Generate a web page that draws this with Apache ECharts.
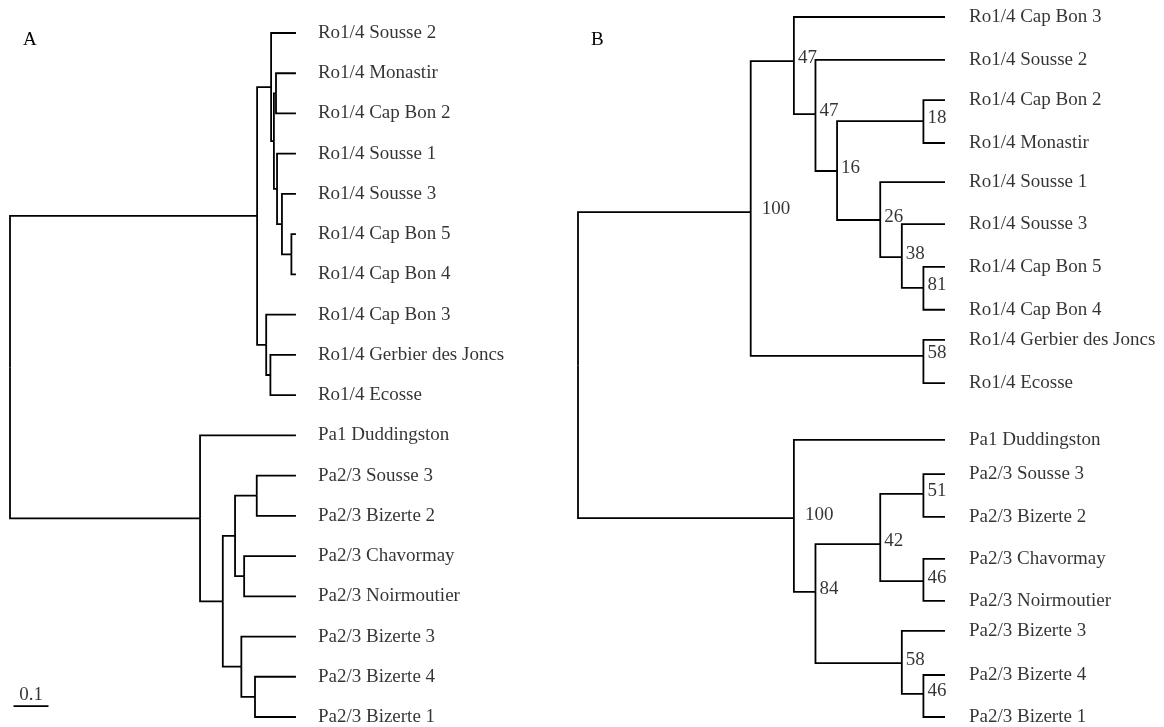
<!DOCTYPE html>
<html>
<head>
<meta charset="utf-8">
<title>Ro1/4 - Pa trees</title>
<script src="https://cdn.jsdelivr.net/npm/echarts@6/dist/echarts.min.js"></script>
<style>
    html, body { margin: 0; padding: 0; background: #fff; }
    #chart { width: 1164px; height: 727px; }
</style>
</head>
<body>
<div id="chart"></div>
<script>
    // ---------- A : distance tree ----------
    const leavesA = [
        'Ro1/4 Sousse 2', 'Ro1/4 Monastir', 'Ro1/4 Cap Bon 2', 'Ro1/4 Sousse 1',
        'Ro1/4 Sousse 3', 'Ro1/4 Cap Bon 5', 'Ro1/4 Cap Bon 4', 'Ro1/4 Cap Bon 3',
        'Ro1/4 Gerbier des Joncs', 'Ro1/4 Ecosse', 'Pa1 Duddingston', 'Pa2/3 Sousse 3',
        'Pa2/3 Bizerte 2', 'Pa2/3 Chavormay', 'Pa2/3 Noirmoutier', 'Pa2/3 Bizerte 3',
        'Pa2/3 Bizerte 4', 'Pa2/3 Bizerte 1'
    ]
    const nodeIdsA = ['root', 'Ro', 'P1', 'X', 'Y', 'P3', 'P4', 'P5', 'Q1', 'Q2', 'Pa', 'R1', 'R2', 'R3', 'R4', 'R5', 'R6']
    // distance from root
    const nodeDepthA = [0, 0.706, 0.746, 0.754, 0.760, 0.763, 0.777, 0.804, 0.732, 0.744, 0.543, 0.608, 0.643, 0.705, 0.669, 0.661, 0.700]
    // numbers = leaf index
    const nodeChildrenA = [
        ['Ro', 'Pa'], ['P1', 'Q1'], [0, 'X'], ['Y', 'P3'], [1, 2], [3, 'P4'], [4, 'P5'], [5, 6],
        [7, 'Q2'], [8, 9], [10, 'R1'], ['R2', 'R5'], ['R3', 'R4'], [11, 12], [13, 14], [15, 'R6'], [16, 17]
    ]
    const leafDepthA = 0.817
    const scaleBarLen = 0.1

    // ---------- B : bootstrap cladogram ----------
    const leavesB = [
        'Ro1/4 Cap Bon 3', 'Ro1/4 Sousse 2', 'Ro1/4 Cap Bon 2', 'Ro1/4 Monastir',
        'Ro1/4 Sousse 1', 'Ro1/4 Sousse 3', 'Ro1/4 Cap Bon 5', 'Ro1/4 Cap Bon 4',
        'Ro1/4 Gerbier des Joncs', 'Ro1/4 Ecosse', 'Pa1 Duddingston', 'Pa2/3 Sousse 3',
        'Pa2/3 Bizerte 2', 'Pa2/3 Chavormay', 'Pa2/3 Noirmoutier', 'Pa2/3 Bizerte 3',
        'Pa2/3 Bizerte 4', 'Pa2/3 Bizerte 1'
    ]
    const leafRowB = [0, 1.04, 2.02, 3.06, 4.01, 5.03, 6.07, 7.11, 7.84, 8.89, 10.27, 11.10, 12.14, 13.16, 14.18, 14.91, 15.98, 17]
    const nodeIdsB = ['root', 'Ro', 'N47a', 'N47b', 'N16', 'N18', 'N26', 'N38', 'N81', 'N58', 'Pa', 'N84', 'N42', 'N51', 'N46a', 'N58b', 'N46b']
    const nodeRankB = [0, 8, 10, 11, 12, 16, 14, 15, 16, 16, 10, 11, 14, 16, 16, 15, 16]
    const nodeRowB = [null, 4.74, 1.07, 2.36, 3.74, 2.53, 4.93, 5.83, 6.58, 8.23, 12.17, 13.96, 12.80, 11.58, 13.70, 15.69, 16.44]
    const nodeChildrenB = [
        ['Ro', 'Pa'], ['N47a', 'N58'], [0, 'N47b'], [1, 'N16'], ['N18', 'N26'], [2, 3], [4, 'N38'], [5, 'N81'],
        [6, 7], [8, 9], [10, 'N84'], ['N42', 'N58b'], ['N51', 'N46a'], [11, 12], [13, 14], [15, 'N46b'], [16, 17]
    ]
    const bootstrapB = [null, 100, 47, 47, 16, 18, 26, 38, 81, 58, 100, 84, 42, 51, 46, 58, 46]
    const leafRankB = 17

    const font = 'Liberation Serif, Times New Roman, serif'
    const ink = '#000'

    function buildTree(ids, depths, childrenList, leafDepth, leafRows, nodeRows) {
        function rowOf(id) {
            if (typeof id === 'number') return leafRows[id]
            const k = ids.indexOf(id)
            if (nodeRows && nodeRows[k] != null) return nodeRows[k]
            const rows = childrenList[k].map(rowOf)
            return (Math.min(...rows) + Math.max(...rows)) / 2
        }
        function xyOf(id) {
            if (typeof id === 'number') return [leafDepth, leafRows[id]]
            return [depths[ids.indexOf(id)], rowOf(id)]
        }
        const links = []
        ids.forEach((id, k) => {
            const p = xyOf(id)
            childrenList[k].forEach(c => {
                const q = xyOf(c)
                links.push({ coords: [[p[0], p[1]], [p[0], q[1]], [q[0], q[1]]] })
            })
        })
        return { xyOf, links }
    }

    const treeA = buildTree(nodeIdsA, nodeDepthA, nodeChildrenA, leafDepthA, leavesA.map((_, i) => i), null)
    const treeB = buildTree(nodeIdsB, nodeRankB, nodeChildrenB, leafRankB, leafRowB, nodeRowB)

    const scaleRow = 16.73
    const scaleStart = 0.01

    const lineStyle = { color: ink, width: 1.8, opacity: 1, curveness: 0, join: 'miter', cap: 'butt' }
    const textStyle = { fontFamily: font, fontSize: 19, color: ink }

    function treeSeries(tree, idx, leaves, gap) {
        return [
            {
                type: 'lines', coordinateSystem: 'cartesian2d', xAxisIndex: idx, yAxisIndex: idx,
                polyline: true, silent: true, clip: false,
                lineStyle: lineStyle,
                data: tree.links
            },
            {
                type: 'scatter', xAxisIndex: idx, yAxisIndex: idx, symbolSize: 0, clip: false, silent: true,
                label: Object.assign({ show: true, position: 'right', distance: gap, formatter: '{b}' }, textStyle),
                data: leaves.map((name, i) => ({ name: name, value: tree.xyOf(i) }))
            }
        ]
    }

    const chartInstance = echarts.init(document.getElementById('chart'), null, { renderer: 'canvas' })

    const option = {
        animation: false,
        backgroundColor: '#fff',
        title: [
            { text: 'A', left: 23, top: 31, padding: 0, textStyle: Object.assign({ fontWeight: 'normal' }, textStyle) },
            { text: 'B', left: 591, top: 31, padding: 0, textStyle: Object.assign({ fontWeight: 'normal' }, textStyle) }
        ],
        grid: [
            { left: 10, top: 33, width: 350, height: 684 },
            { left: 578, top: 17, width: 367, height: 700 }
        ],
        xAxis: [
            { type: 'value', gridIndex: 0, min: 0, max: 1, show: false },
            { type: 'value', gridIndex: 1, min: 0, max: 17, show: false }
        ],
        yAxis: [
            { type: 'value', gridIndex: 0, min: 0, max: 17, inverse: true, show: false },
            { type: 'value', gridIndex: 1, min: 0, max: 17, inverse: true, show: false }
        ],
        series: [
            ...treeSeries(treeA, 0, leavesA, 22),
            ...treeSeries(treeB, 1, leavesB, 24),
            {
                // bootstrap values (the 100s sit a bit further out)
                type: 'scatter', xAxisIndex: 1, yAxisIndex: 1, symbolSize: 0, clip: false, silent: true,
                label: Object.assign({ show: true, position: 'right', distance: 4, offset: [0, -3], formatter: '{b}' }, textStyle),
                data: nodeIdsB.map((id, k) => {
                    if (bootstrapB[k] == null) return null
                    const item = { name: String(bootstrapB[k]), value: treeB.xyOf(id) }
                    if (bootstrapB[k] === 100) item.label = { distance: 11 }
                    return item
                }).filter(d => d)
            },
            {
                // scale bar
                type: 'lines', coordinateSystem: 'cartesian2d', xAxisIndex: 0, yAxisIndex: 0,
                polyline: true, silent: true, clip: false,
                lineStyle: lineStyle,
                data: [{ coords: [[scaleStart, scaleRow], [scaleStart + scaleBarLen, scaleRow]] }]
            },
            {
                type: 'scatter', xAxisIndex: 0, yAxisIndex: 0, symbolSize: 0, clip: false, silent: true,
                label: Object.assign({ show: true, position: 'top', distance: 2, formatter: '{b}' }, textStyle),
                data: [{ name: String(scaleBarLen), value: [scaleStart + scaleBarLen / 2, scaleRow] }]
            }
        ]
    }
    chartInstance.setOption(option)
</script>
</body>
</html>
